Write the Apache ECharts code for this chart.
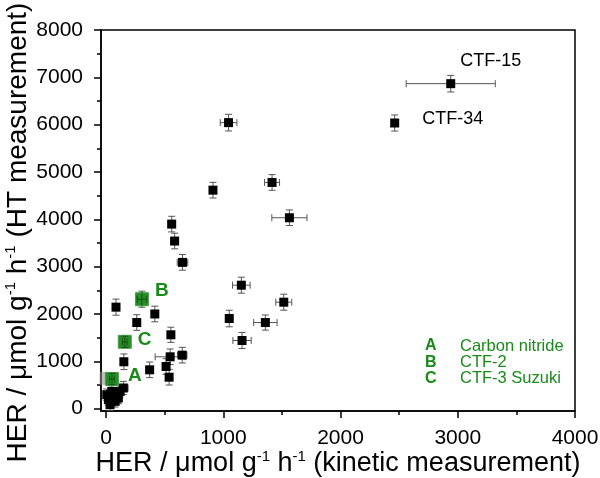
<!DOCTYPE html>
<html><head><meta charset="utf-8">
<script src="https://cdn.jsdelivr.net/npm/echarts@6/dist/echarts.min.js"></script>
<style>html,body{margin:0;padding:0;background:#fff}#c{width:600px;height:478px}</style>
</head><body><div id="c"></div>
<script>
// ---- tick values ----
const xTicks = [0, 1000, 2000, 3000, 4000];
const xMinor = [500, 1500, 2500, 3500];
const yTicks = [0, 1000, 2000, 3000, 4000, 5000, 6000, 7000, 8000];
const yMinor = [500, 1500, 2500, 3500, 4500, 5500, 6500, 7500];

// ---- black points (kinetic vs HT) ----
const blackNames = ['CTF-15', 'CTF-34'];
const blackX    = [2940, 2462, 1045, 1416,  912, 1564,  560,  585,  652, 1154, 1516, 1051, 1359, 1160,  416,  262,   85,  553,  650,  547,  512,  538,  372,  152,  148,   91,   20,   49,  105,   34,   77,    6,  120];
const blackY    = [6866, 6035, 6043, 4779, 4616, 4033, 3899, 3541, 3090, 2608, 2249, 1904, 1819, 1440, 2000, 1819, 2144, 1560, 1130, 1095,  890,  664,  820,  990,  436,  225,  190,  365,  225,   84,  154,  295,  365];
const blackXErr = [ 380,    0,   71,   64,   20,  150,   30,   30,   45,   75,   68,   20,  100,   78,   20,   20,   20,   20,   40,  128,   20,   20,   30,   20,   40,   20,   20,   20,   20,   20,   20,   20,   20];
const blackYErr = [ 175,  170,  176,  165,  165,  165,  165,  165,  165,  169,  169,  175,  160,  170,  165,  165,  170,  160,  165,  165,  165,  165,  165,  165,  140,  120,  120,  120,  120,  120,  120,  120,  120];

// ---- green highlighted points ----
const greenNames = ['A', 'B', 'C'];
const greenX    = [  50,  306,  160];
const greenY    = [ 626, 2312, 1412];
const greenXErr = [  20,   40,   20];
const greenYErr = [ 120,  170,  120];
const legendLetters = ['A', 'B', 'C'];
const legendTexts = ['Carbon nitride', 'CTF-2', 'CTF-3 Suzuki'];

// grey underlying point
const greyX = [0];
const greyY = [640];

const FONT = 'Liberation Sans, Arial, sans-serif';
const GREEN = '#1a8a1a';

function errSeries(xs, ys, xe, ye, color) {
  return {
    type: 'custom', silent: true, clip: true, z: 1,
    data: xs.map((x, i) => [x, ys[i], xe[i], ye[i]]),
    encode: { x: 0, y: 1 },
    renderItem(params, api) {
      const x = api.value(0), y = api.value(1), dx = api.value(2), dy = api.value(3);
      const c = api.coord([x, y]);
      const cap = 3.5;
      const st = { stroke: color, lineWidth: 1 };
      const ch = [];
      const L = (x1, y1, x2, y2) => ch.push({ type: 'line', shape: { x1, y1, x2, y2 }, style: st });
      if (dy > 0) {
        const t = api.coord([x, y + dy])[1], b = api.coord([x, y - dy])[1];
        L(c[0], t, c[0], b); L(c[0] - cap, t, c[0] + cap, t); L(c[0] - cap, b, c[0] + cap, b);
      }
      if (dx > 0) {
        const l = api.coord([x - dx, y])[0], r = api.coord([x + dx, y])[0];
        L(l, c[1], r, c[1]); L(l, c[1] - cap, l, c[1] + cap); L(r, c[1] - cap, r, c[1] + cap);
      }
      return { type: 'group', children: ch };
    }
  };
}

const axisLineStyle = { color: '#000', width: 1.5 };
const plain = v => String(v);
const blackData = blackX.map((x, i) => {
  const d = { value: [x, blackY[i]] };
  if (i < blackNames.length) {
    d.label = {
      show: true, formatter: blackNames[i], position: 'right', color: '#000',
      fontSize: 18, fontFamily: FONT,
      offset: i === 0 ? [0, -23] : [18, -4]
    };
  }
  return d;
});
const greenOffsets = [[4, -3], [1, -8], [1, -2]];
const greenData = greenX.map((x, i) => ({
  value: [x, greenY[i]],
  label: { show: true, formatter: greenNames[i], position: 'right', offset: greenOffsets[i] }
}));
const supStyle = { fontSize: 15, fontFamily: FONT, color: '#000', verticalAlign: 'top', lineHeight: 30, padding: [0, 0, 10, 0] };

const option = {
  animation: false,
  backgroundColor: '#fff',
  grid: [
    { left: 101, right: 25, top: 30, bottom: 67, outerBoundsMode: 'none', containLabel: false, show: true, borderColor: '#000', borderWidth: 1.5, backgroundColor: 'transparent' },
    { left: 101, right: 25, top: 30, bottom: 67, outerBoundsMode: 'none', containLabel: false }
  ],
  xAxis: [{
    type: 'value', min: -43, max: 4000, gridIndex: 0,
    axisLine: { show: true, onZero: false, lineStyle: axisLineStyle },
    axisTick: { show: true, customValues: xTicks, length: 7, lineStyle: { color: '#000', width: 1.5 } },
    axisLabel: { customValues: xTicks, formatter: plain, fontSize: 21, color: '#000', fontFamily: FONT, margin: 17 },
    splitLine: { show: false },
    name: 'HER / μmol g{sup|-1} h{sup|-1} (kinetic measurement)',
    nameLocation: 'middle', nameGap: 38, nameMoveOverlap: false,
    nameTextStyle: { fontSize: 27, color: '#000', fontFamily: FONT, lineHeight: 30, rich: { sup: supStyle } }
  }, {
    type: 'value', min: -43, max: 4000, gridIndex: 1,
    axisLine: { show: false, onZero: false },
    axisTick: { show: true, customValues: xMinor, length: 4, lineStyle: { color: '#000', width: 1.5 } },
    axisLabel: { show: false }, splitLine: { show: false }
  }],
  yAxis: [{
    type: 'value', min: -50, max: 8000, gridIndex: 0,
    axisLine: { show: true, onZero: false, lineStyle: axisLineStyle },
    axisTick: { show: true, customValues: yTicks, length: 7, lineStyle: { color: '#000', width: 1.5 } },
    axisLabel: { customValues: yTicks, formatter: plain, fontSize: 21, color: '#000', fontFamily: FONT, margin: 18 },
    splitLine: { show: false },
    name: 'HER / μmol g{sup|-1} h{sup|-1} (HT measurement)',
    nameLocation: 'middle', nameGap: 68, nameMoveOverlap: false,
    nameTextStyle: { fontSize: 28, color: '#000', fontFamily: FONT, lineHeight: 30, padding: [0, 24, 0, 0], rich: { sup: supStyle } }
  }, {
    type: 'value', min: -50, max: 8000, gridIndex: 1,
    axisLine: { show: false, onZero: false },
    axisTick: { show: true, customValues: yMinor, length: 4, lineStyle: { color: '#000', width: 1.5 } },
    axisLabel: { show: false }, splitLine: { show: false }
  }],
  series: [
    errSeries(blackX, blackY, blackXErr, blackYErr, '#555'),
    {
      type: 'scatter', symbol: 'rect', z: 2, symbolSize: 13,
      itemStyle: { color: 'rgba(140,140,140,0.7)' },
      data: greyX.map((x, i) => [x, greyY[i]])
    },
    {
      type: 'scatter', symbol: 'rect', symbolSize: 9, z: 3,
      itemStyle: { color: '#000', opacity: 1 },
      data: blackData
    },
    {
      type: 'scatter', symbol: 'rect', symbolSize: 13, z: 4,
      itemStyle: { color: '#268c26', opacity: 1, borderColor: '#4a9e4a', borderWidth: 1 },
      label: { fontSize: 19, fontWeight: 'bold', color: GREEN, fontFamily: FONT },
      data: greenData
    },
    Object.assign(errSeries(greenX, greenY, greenXErr, greenYErr, 'rgba(20,70,20,0.8)'), { z: 5 })
  ],
  graphic: legendLetters.map((l, i) => ({
    type: 'group', x: 425, y: 346 + i * 16.3,
    children: [
      { type: 'text', x: 0, y: 0, style: { text: l, font: 'bold 16px ' + FONT, fill: GREEN, verticalAlign: 'middle' } },
      { type: 'text', x: 35, y: 0, style: { text: legendTexts[i], font: '16.5px ' + FONT, fill: GREEN, verticalAlign: 'middle' } }
    ]
  }))
};
const chart = echarts.init(document.getElementById('c'), null, { renderer: 'canvas' });
chart.setOption(option);
</script></body></html>
